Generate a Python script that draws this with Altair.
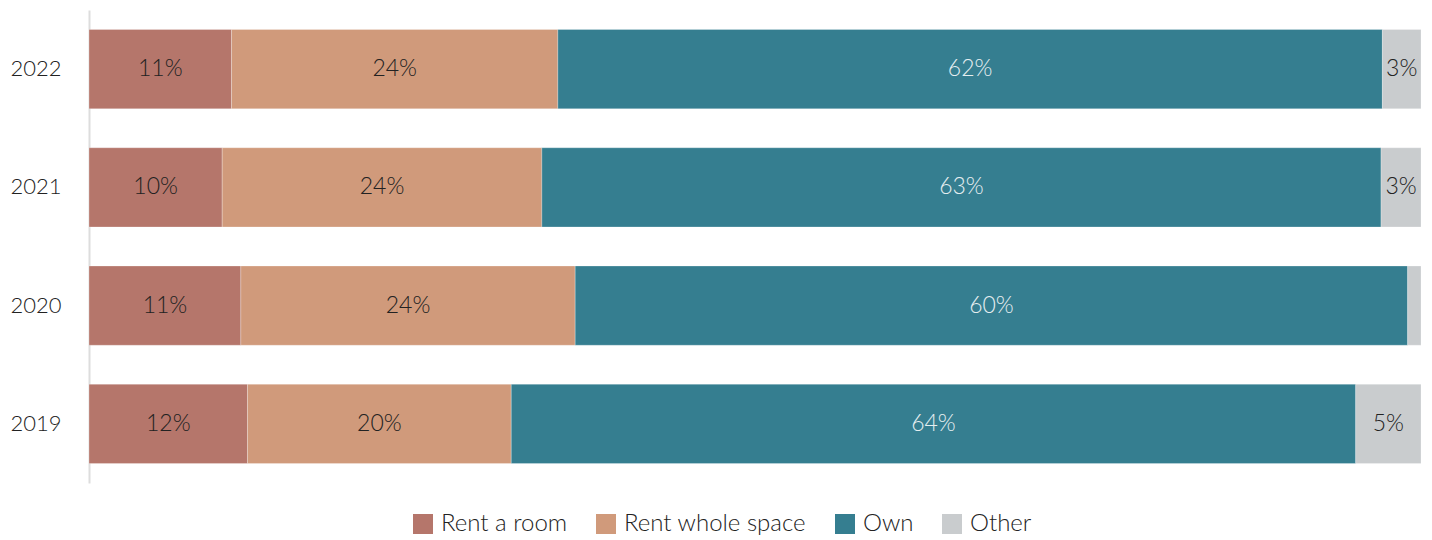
import altair as alt
import pandas as pd

years = ["2022", "2021", "2020", "2019"]
categories = ["Rent a room", "Rent whole space", "Own", "Other"]
colors = ["#b5766b", "#d09a7b", "#357e90", "#c9ccce"]
# shares (%) per year, in category order
values = {
    "2022": [10.7, 24.5, 61.9, 2.9],
    "2021": [10.0, 24.0, 63.0, 3.0],
    "2020": [11.4, 25.1, 62.5, 1.0],
    "2019": [11.9, 19.8, 63.4, 4.9],
}
labels = {
    "2022": ["11%", "24%", "62%", "3%"],
    "2021": ["10%", "24%", "63%", "3%"],
    "2020": ["11%", "24%", "60%", ""],
    "2019": ["12%", "20%", "64%", "5%"],
}

rows = []
for y in years:
    cum = 0.0
    for i, c in enumerate(categories):
        v = values[y][i]
        rows.append({"year": y, "cat": c, "start": cum, "end": cum + v,
                     "mid": cum + v / 2, "label": labels[y][i],
                     "light": c == "Own"})
        cum += v
df = pd.DataFrame(rows)

FONT = "Lato"

x = alt.X("start:Q", scale=alt.Scale(domain=[0, 100], nice=False), axis=None)
y = alt.Y("year:N", sort=years, title=None,
          scale=alt.Scale(paddingInner=0.33, paddingOuter=0.165),
          axis=alt.Axis(ticks=False, grid=False, domainColor="#dddddd", domainWidth=2,
                        labelFont=FONT, labelFontSize=22, labelFontWeight=300,
                        labelColor="#222222", labelPadding=28))

bars = alt.Chart(df).mark_bar(stroke="white", strokeOpacity=0.25, strokeWidth=1).encode(
    x=x, x2="end:Q", y=y,
    color=alt.Color("cat:N", sort=categories,
                    scale=alt.Scale(domain=categories, range=colors),
                    legend=alt.Legend(title=None, orient="none", direction="horizontal",
                                      legendX=322, legendY=502,
                                      symbolType="square", symbolSize=400,
                                      symbolStrokeWidth=0, symbolOpacity=1,
                                      labelFont=FONT, labelFontSize=24,
                                      labelFontWeight=300, labelLimit=0,
                                      labelColor="#222222", columnPadding=26,
                                      labelOffset=6)),
)

text = alt.Chart(df).mark_text(font=FONT, fontSize=23, fontWeight=300).encode(
    x=alt.X("mid:Q"), y=alt.Y("year:N", sort=years),
    text="label:N",
    color=alt.condition("datum.light", alt.value("#e6eef0"), alt.value("#222222")),
)

chart = (bars + text).properties(
    width=1332, height=473,
    padding={"left": 81, "top": 2, "right": 3, "bottom": 55},
    autosize=alt.AutoSizeParams(type="none"),
).configure(font=FONT).configure_view(strokeWidth=0, stroke=None)

chart.save("out.html", embed_options={"renderer": "svg", "actions": False})
